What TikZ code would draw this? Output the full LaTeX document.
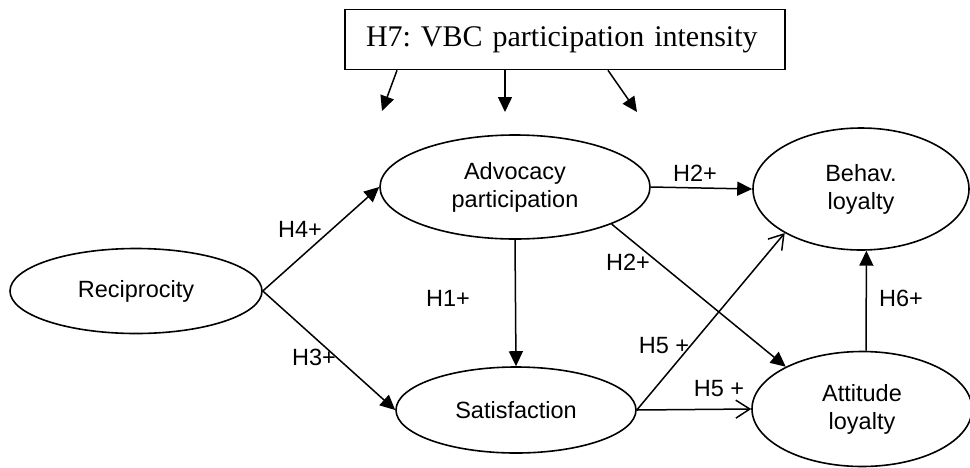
\documentclass[tikz,border=0pt]{standalone}
\usepackage{fontspec}
\setmainfont{Liberation Sans}
\newfontfamily\boxserif{Liberation Serif}
\usetikzlibrary{shapes.geometric,arrows.meta}
\newcommand\labfont{\fontsize{23.5}{28}\selectfont}
\frenchspacing
\begin{document}
\begin{tikzpicture}[x=1pt,y=-1pt,
  ellip/.style={ellipse, draw, line width=1.6pt, inner sep=0pt, align=center, font=\labfont},
  lbl/.style={inner sep=0pt, font=\labfont},
  arr/.style={line width=1.5pt, -{Triangle[length=15pt,width=14pt]}},
  oarr/.style={line width=1.5pt, -{Straight Barb[length=14pt,width=18pt]}},
  hbox/.style={rectangle, draw, line width=1.6pt, minimum width=440pt, minimum height=60pt,
    text width=398pt, inner xsep=21pt, align=left, font=\boxserif\fontsize{30}{35}\selectfont}]
\useasboundingbox (0,0) rectangle (970,467);
\fill[white] (0,0) rectangle (970,467);

\node[hbox] (h7) at (565,39.5) {H7: VBC participation intensity};
\coordinate (t1) at (382,111);
\coordinate (t2) at (505,112);
\coordinate (t3) at (637,112);

\node[ellip, minimum width=252pt, minimum height=85pt] (rec) at (136,291) {Reciprocity};
\node[ellip, minimum width=270pt, minimum height=104pt] (adv) at (515,187) {Advocacy\\participation};
\node[ellip, minimum width=240pt, minimum height=86pt] (sat) at (516,410) {Satisfaction};
\node[ellip, minimum width=216pt, minimum height=122pt] (beh) at (861,189) {Behav.\\loyalty};
\node[ellip, minimum width=220pt, minimum height=115pt] (att) at (862,409) {Attitude\\loyalty};

\draw[arr] ([xshift=-168pt]h7.south) -- (t1);
\draw[arr] ([xshift=-60pt]h7.south) -- (t2);
\draw[arr] ([xshift=43pt]h7.south) -- (t3);

\draw[arr] (rec.east) -- (adv.west);
\draw[arr] (rec.east) -- (sat.west);
\draw[arr] (adv.south) -- (sat.north);
\draw[arr] (adv.east) -- (beh.west);
\draw[arr] (adv.-21) -- (att.151);
\draw[oarr] (sat.east) -- (beh.210);
\draw[oarr] (sat.east) -- (att.west);
\draw[arr] (att.86) -- (beh.-85);

\node[lbl] (l4) at (300,229) {H4+};
\node[lbl] (l3) at (314,357) {H3+};
\node[lbl] (l1) at (448,298) {H1+};
\node[lbl] (l2a) at (695,173) {H2+};
\node[lbl] (l2b) at (628,262) {H2+};
\node[lbl] (l5a) at (664,346) {H5 +};
\node[lbl] (l5b) at (719,389) {H5 +};
\node[lbl] (l6) at (901,298) {H6+};
\end{tikzpicture}
\end{document}
